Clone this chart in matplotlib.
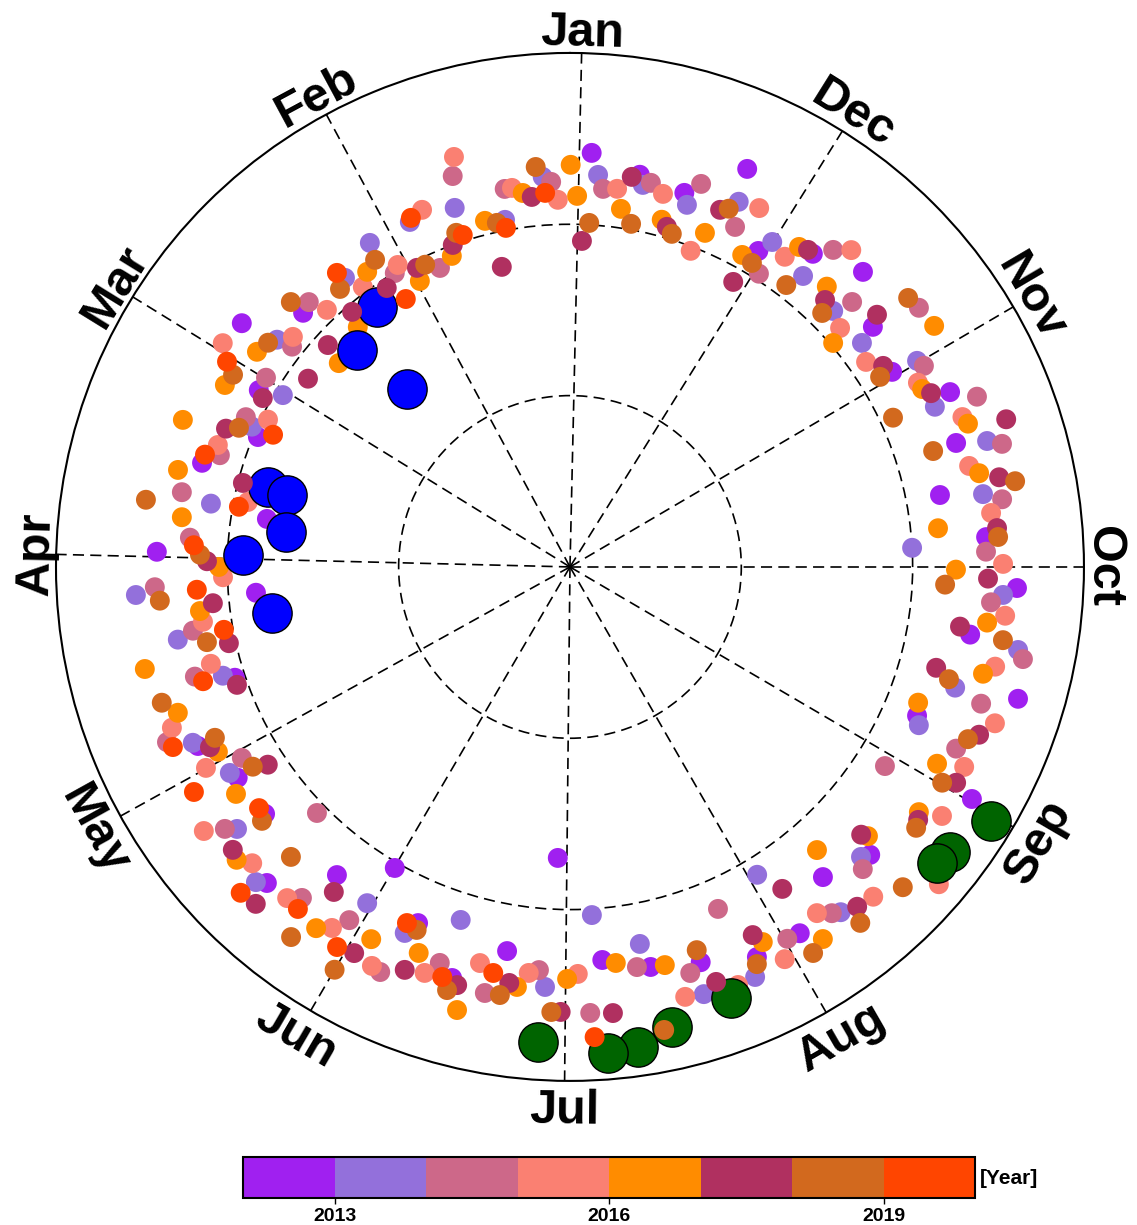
import numpy as np
import matplotlib
matplotlib.use("Agg")
import matplotlib.pyplot as plt
from matplotlib.colors import ListedColormap, BoundaryNorm
from matplotlib.cm import ScalarMappable

plt.rcParams['lines.scale_dashes'] = False
plt.rcParams['font.family'] = ['Liberation Sans', 'DejaVu Sans']

# ---------------- data ----------------
months = ['Jan', 'Feb', 'Mar', 'Apr', 'May', 'Jun', 'Jul', 'Aug', 'Sep', 'Oct', 'Nov', 'Dec']
month_angle = [358.7, 28.3, 58.3, 88.6, 119.0, 149.7, 179.4, 209.9, 239.6, 270.0, 300.4, 328.0]

years = [2012, 2013, 2014, 2015, 2016, 2017, 2018, 2019]
year_colors = ['#A020F0', '#9370DB', '#CD6889', '#FA8072', '#FF8C00', '#B03060', '#D2691E', '#FF4500']

theta_2012 = [357.0, 349.9, 343.0, 336.0, 329.2, 322.2, 315.2, 308.4, 301.2, 294.7, 287.8, 281.0, 274.1,
              267.3, 260.4, 253.6, 246.8, 240.0, 226.2, 219.2, 212.1, 198.3, 205.6, 177.6, 170.7, 184.7,
              191.4, 122.4, 129.0, 136.2, 142.9, 149.8, 156.9, 164.0, 81.0, 87.9, 94.7, 108.3, 115.7,
              46.4, 53.4, 60.4, 67.4, 74.2]
r_2012 = [2.420, 2.325, 2.283, 2.543, 2.147, 2.313, 2.427, 2.256, 2.198, 2.442, 2.367, 2.200, 2.435,
          2.612, 2.369, 2.726, 2.204, 2.709, 2.428, 2.336, 2.524, 2.430, 2.525, 1.700, 2.272, 2.302,
          2.382, 2.297, 2.290, 2.556, 2.255, 2.033, 2.260, 2.496, 1.791, 2.413, 1.839, 2.060, 2.410,
          2.151, 2.386, 2.089, 1.973, 2.232]

theta_2013 = [17.8, 24.9, 10.6, 4.0, 355.9, 349.2, 342.1, 335.2, 328.1, 321.3, 314.2, 307.5, 300.7,
              293.7, 286.8, 280.0, 273.2, 266.3, 259.5, 252.6, 245.6, 225.1, 218.1, 211.3, 204.3, 197.4,
              162.8, 183.6, 190.5, 176.6, 115.0, 121.2, 128.2, 135.1, 148.9, 155.7, 80.0, 93.7, 100.5,
              107.4, 31.7, 37.9, 52.2, 59.1, 66.2]
r_2013 = [2.201, 2.220, 2.061, 2.282, 2.294, 2.270, 2.221, 2.348, 2.234, 2.176, 2.143, 2.148, 2.356,
          2.326, 2.543, 2.448, 2.000, 2.533, 2.660, 2.356, 2.236, 2.398, 2.561, 2.103, 2.626, 2.613,
          2.157, 2.036, 2.238, 2.456, 2.429, 2.321, 2.473, 2.597, 2.292, 2.344, 2.128, 2.539, 2.328,
          2.123, 2.223, 2.138, 2.164, 1.953, 2.029]

theta_2014 = [16.7, 9.8, 2.8, 355.0, 348.1, 341.1, 334.1, 327.2, 320.3, 313.2, 306.6, 299.6, 292.7,
              285.9, 278.9, 272.1, 265.2, 258.5, 251.6, 244.8, 237.7, 224.1, 217.1, 203.4, 210.3, 196.5,
              161.8, 168.7, 175.6, 189.5, 182.6, 120.2, 134.2, 127.2, 141.0, 148.0, 154.9, 79.1, 85.6,
              92.8, 99.6, 106.3, 113.5, 30.8, 23.5, 44.6, 51.6, 58.1, 65.2, 72.3]
r_2014 = [2.382, 2.239, 2.250, 2.215, 2.291, 2.363, 2.206, 2.036, 2.405, 2.259, 2.537, 2.376, 2.575,
          2.622, 2.553, 2.430, 2.466, 2.698, 2.529, 2.491, 2.175, 2.456, 2.534, 2.175, 2.514, 2.472,
          2.433, 2.536, 2.360, 2.368, 2.606, 2.216, 2.060, 2.529, 2.486, 2.431, 2.611, 2.307, 2.225,
          2.426, 2.232, 2.281, 2.565, 1.997, 1.903, 2.171, 2.070, 2.090, 2.084, 2.145]

theta_2015 = [15.8, 22.5, 8.7, 1.9, 352.9, 346.0, 339.1, 332.2, 325.3, 318.4, 311.5, 304.7, 297.9,
              290.9, 284.2, 277.3, 270.4, 263.6, 256.8, 249.8, 243.1, 236.2, 229.3, 222.6, 215.5, 208.7,
              195.0, 201.9, 167.2, 174.2, 181.1, 118.9, 125.8, 133.0, 139.5, 146.6, 160.3, 153.6, 78.6,
              91.7, 98.5, 105.1, 112.0, 29.7, 36.5, 43.4, 57.2, 50.3, 64.0, 70.9]
r_2015 = [2.487, 2.256, 2.238, 2.144, 2.224, 2.244, 1.975, 2.368, 2.202, 2.473, 2.105, 2.102, 2.298,
          2.452, 2.403, 2.478, 2.528, 2.556, 2.549, 2.643, 2.580, 2.613, 2.840, 2.615, 2.482, 2.610,
          2.598, 2.630, 2.371, 2.382, 2.376, 2.427, 2.635, 2.536, 2.542, 2.524, 2.517, 2.600, 1.918,
          2.026, 2.166, 2.171, 2.506, 2.029, 2.033, 2.065, 2.411, 2.102, 1.961, 2.175]

theta_2016 = [20.8, 13.8, 7.2, 359.9, 358.9, 351.9, 345.2, 338.0, 331.1, 324.4, 317.5, 310.4, 303.5,
              296.8, 289.8, 282.9, 276.0, 269.6, 262.4, 255.5, 248.7, 241.8, 234.9, 227.9, 221.1, 207.2,
              214.2, 172.8, 165.7, 179.6, 186.6, 193.4, 117.7, 124.2, 131.3, 144.9, 151.9, 158.6, 82.7,
              90.0, 96.8, 103.5, 110.4, 34.5, 27.7, 41.5, 55.5, 48.6, 62.2, 69.2, 76.1]
r_2016 = [1.942, 2.080, 2.200, 2.347, 2.166, 2.111, 2.096, 2.103, 2.080, 2.297, 2.219, 2.017, 2.549,
          2.303, 2.469, 2.450, 2.160, 2.253, 2.456, 2.490, 2.181, 2.431, 2.489, 2.344, 2.193, 2.462,
          2.626, 2.471, 2.669, 2.405, 2.327, 2.389, 2.321, 2.357, 2.590, 2.577, 2.463, 2.420, 2.284,
          2.049, 2.175, 2.552, 2.442, 2.090, 1.885, 1.869, 2.217, 1.799, 2.277, 2.417, 2.357]

theta_2017 = [20.0, 5.9, 357.9, 351.0, 344.1, 337.2, 330.2, 323.1, 316.3, 309.4, 302.7, 295.7, 288.7,
              281.8, 275.2, 268.4, 261.3, 254.6, 247.7, 240.8, 234.0, 227.4, 220.2, 213.4, 206.4, 199.4,
              164.9, 171.7, 178.8, 185.5, 116.6, 123.2, 130.0, 144.0, 137.0, 150.8, 157.7, 75.6, 89.1,
              95.8, 102.6, 109.5, 27.1, 33.3, 40.5, 47.5, 61.2, 54.3, 68.1, 12.8]
r_2017 = [2.000, 2.171, 1.904, 2.305, 2.064, 2.261, 1.917, 2.314, 2.155, 2.319, 2.172, 2.339, 2.688,
          2.559, 2.503, 2.441, 2.303, 2.217, 2.581, 2.582, 2.512, 2.309, 2.597, 2.251, 2.399, 2.568,
          2.528, 2.454, 2.598, 2.616, 2.350, 2.108, 2.569, 2.345, 2.689, 2.582, 2.542, 1.971, 2.119,
          2.095, 2.040, 2.062, 1.961, 1.948, 1.958, 1.917, 2.046, 1.883, 2.164, 1.796]

theta_2018 = [18.8, 12.0, 4.9, 356.8, 349.9, 343.0, 336.1, 329.1, 322.5, 315.2, 301.5, 308.5, 294.8,
              287.7, 280.9, 274.0, 267.3, 260.4, 253.5, 246.6, 239.9, 233.0, 226.1, 219.2, 212.2, 198.3,
              205.2, 163.8, 170.7, 177.6, 191.5, 115.7, 122.2, 129.5, 136.1, 143.0, 157.1, 149.7, 81.0,
              88.1, 94.7, 101.7, 108.4, 32.4, 25.6, 39.6, 46.5, 53.4, 60.3, 67.2]
r_2018 = [2.060, 2.053, 2.343, 2.011, 2.034, 2.033, 2.287, 2.068, 2.074, 2.089, 2.123, 2.522, 2.077,
          2.225, 2.646, 2.505, 2.192, 2.563, 2.307, 2.531, 2.511, 2.530, 2.696, 2.681, 2.663, 2.356,
          2.562, 2.572, 2.532, 2.600, 2.758, 2.300, 2.188, 2.330, 2.349, 2.705, 2.300, 2.723, 2.506,
          2.161, 2.402, 2.164, 2.511, 2.123, 1.956, 2.106, 2.246, 2.195, 2.264, 2.096]

theta_2019 = [24.5, 17.9, 10.7, 3.8, 162.7, 169.3, 183.0, 114.4, 120.9, 127.8, 134.7, 141.5, 148.5,
              155.4, 79.7, 86.7, 93.5, 100.3, 107.3, 38.4, 31.5, 59.1, 66.0, 72.9]
r_2019 = [2.239, 2.036, 2.014, 2.188, 2.507, 2.412, 2.748, 2.545, 2.558, 2.297, 2.704, 2.551, 2.602,
          2.286, 1.964, 2.199, 2.182, 2.053, 2.243, 2.190, 1.834, 2.333, 1.897, 2.229]

# large event markers
theta_blue = [36.6, 44.5, 42.5, 75.2, 75.7, 83.0, 87.9, 98.8]
r_blue = [1.890, 1.775, 1.409, 1.824, 1.705, 1.670, 1.910, 1.760]
theta_green = [238.9, 233.1, 231.1, 200.5, 192.5, 188.1, 184.5, 176.1]
r_green = [2.870, 2.773, 2.752, 2.686, 2.751, 2.830, 2.846, 2.779]

year_theta = [theta_2012, theta_2013, theta_2014, theta_2015, theta_2016, theta_2017, theta_2018, theta_2019]
year_r = [r_2012, r_2013, r_2014, r_2015, r_2016, r_2017, r_2018, r_2019]

# ---------------- figure ----------------
W, H = 1137, 1225
fig = plt.figure(figsize=(W / 100, H / 100), dpi=100)
ax = fig.add_axes([0.04925, 0.1176, 0.9041, 0.8392], projection='polar')
ax.set_theta_zero_location('N')
ax.set_theta_direction(1)
ax.set_xticks(np.deg2rad(month_angle))
ax.set_xticklabels([])
ax.set_thetalim(0, 2 * np.pi)
ax.set_rlim(0, 3)
ax.set_rticks([1, 2])
ax.set_yticklabels([])
ax.tick_params(length=0)
ax.grid(True, color='black', linestyle=(0, (8, 4.5)), linewidth=1.2)
ax.spines['polar'].set_linewidth(1.5)
ax.set_axisbelow(True)

small_s = 205
big_s = 800
for yr, col, th, rr in zip(years, year_colors, year_theta, year_r):
    z = 3 if yr <= 2016 else 5
    ax.scatter(np.deg2rad(th), rr, s=small_s, c=col, edgecolors='none', zorder=z)

ax.scatter(np.deg2rad(theta_blue), r_blue, s=big_s, c='#0000FF', edgecolors='black', linewidths=1.0, zorder=4)
ax.scatter(np.deg2rad(theta_green), r_green, s=big_s, c='#006400', edgecolors='black', linewidths=1.0, zorder=4)

for name, a in zip(months, month_angle):
    rot = a - 180 if 90 < a < 270 else (a if a <= 180 else a - 360)
    ax.text(np.deg2rad(a), 3.145, name, rotation=rot, rotation_mode='anchor',
            ha='center', va='center_baseline', fontsize=35, fontweight='bold', clip_on=False)

# ---------------- colorbar ----------------
cmap = ListedColormap(year_colors)
bounds = years + [2020]
norm = BoundaryNorm(bounds, cmap.N)
cax = fig.add_axes([243 / W, 1 - 1198 / H, 732 / W, 41 / H])
cb = fig.colorbar(ScalarMappable(norm=norm, cmap=cmap), cax=cax, orientation='horizontal',
                  ticks=[2013, 2016, 2019])
cb.minorticks_off()
cb.outline.set_linewidth(1.5)
cax.tick_params(length=4, width=1, labelsize=14)
for lab in cax.get_xticklabels():
    lab.set_fontweight('bold')
fig.text(980 / W, 1 - 1178 / H, '[Year]', ha='left', va='center', fontsize=15, fontweight='bold')

fig.savefig('out.png', dpi=100)
